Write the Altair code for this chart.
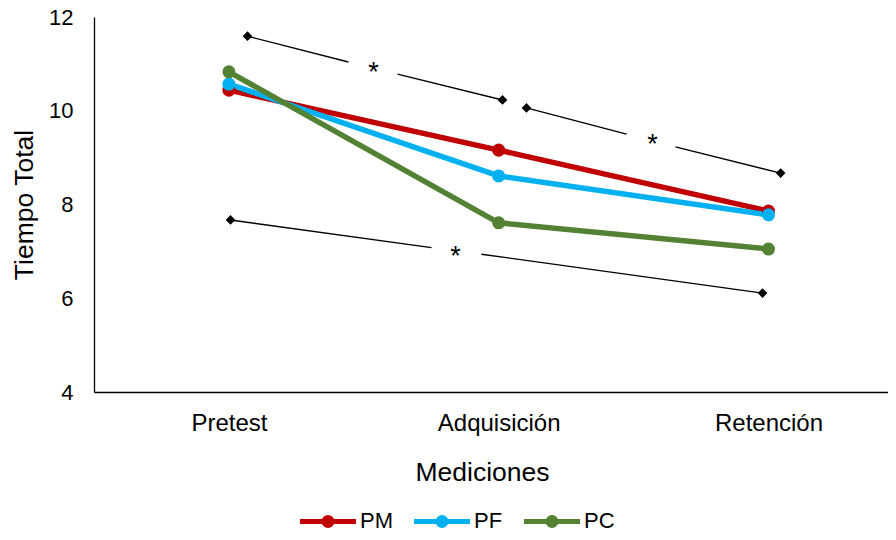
import altair as alt
import pandas as pd

categories = ["Pretest", "Adquisición", "Retención"]
series = ["PM", "PF", "PC"]
colors = ["#C00000", "#00B0F0", "#548235"]
pm = [10.44, 9.16, 7.86]
pf = [10.57, 8.61, 7.78]
pc = [10.83, 7.61, 7.05]
y_ticks = [4, 6, 8, 10, 12]

# significance brackets (x in category units, 0.5 = first category)
sig_x1 = [0.569, 1.603, 0.506]
sig_y1 = [11.59, 10.06, 7.67]
sig_gx1 = [0.943, 1.974, 1.251]
sig_gy1 = [11.04, 9.50, 7.08]
sig_gx2 = [1.125, 2.155, 1.436]
sig_gy2 = [10.78, 9.23, 6.94]
sig_x2 = [1.514, 2.545, 2.478]
sig_y2 = [10.23, 8.67, 6.11]
star_x = [1.036, 2.070, 1.340]
star_y = [10.95, 9.42, 7.03]

FONT = "Liberation Sans"

rows = []
for s, vals in zip(series, [pm, pf, pc]):
    for j, v in enumerate(vals):
        rows.append({"x": j + 0.5, "y": v, "Serie": s})
df = pd.DataFrame(rows)

seg_rows = []
for i in range(len(sig_x1)):
    seg_rows.append({"x": sig_x1[i], "y": sig_y1[i], "x2": sig_gx1[i], "y2": sig_gy1[i]})
    seg_rows.append({"x": sig_gx2[i], "y": sig_gy2[i], "x2": sig_x2[i], "y2": sig_y2[i]})
seg_df = pd.DataFrame(seg_rows)

dia_rows = []
for i in range(len(sig_x1)):
    dia_rows.append({"x": sig_x1[i], "y": sig_y1[i]})
    dia_rows.append({"x": sig_x2[i], "y": sig_y2[i]})
dia_df = pd.DataFrame(dia_rows)

star_df = pd.DataFrame({"x": star_x, "y": star_y, "t": ["*"] * len(star_x)})

label_expr = "[" + ",".join("'" + c + "'" for c in categories) + "][floor(datum.value)]"

x_scale = alt.Scale(domain=[0, 2.943], nice=False, zero=False)
y_scale = alt.Scale(domain=[4, 12], nice=False, zero=False)

x_axis = alt.Axis(
    values=[0.5, 1.5, 2.5], labelExpr=label_expr, title="Mediciones", grid=False,
    ticks=False, domainColor="black", domainWidth=1.3, labelFontSize=24,
    labelColor="black", labelFont=FONT, labelPadding=19, titleFontSize=26.5,
    titleFontWeight="normal", titleColor="black", titleFont=FONT, titleX=388,
    titleY=88, titleBaseline="alphabetic", labelOverlap=False, labelFlush=False,
)
y_axis = alt.Axis(
    values=y_ticks, title="Tiempo Total", grid=False, ticks=False,
    domainColor="black", domainWidth=1.3, labelFontSize=22, labelColor="black",
    labelFont=FONT, labelPadding=21, titleFontSize=26.5, titleFontWeight="normal",
    titleColor="black", titleFont=FONT, titleX=-62, titleY=187.5,
    titleBaseline="alphabetic", labelOverlap=False,
)

# legend symbol: line with a dot, unit = 6 px (symbolSize 144)
legend_path = (
    "M-4.667,0L4.667,0 "
    "M0.667,0A0.667,0.667 0 1,1 -0.667,0A0.667,0.667 0 1,1 0.667,0 "
    "M0.25,0A0.25,0.25 0 1,1 -0.25,0A0.25,0.25 0 1,1 0.25,0"
)

color = alt.Color(
    "Serie:N",
    scale=alt.Scale(domain=series, range=colors),
    sort=series,
    legend=alt.Legend(
        title=None, orient="none", legendX=223, legendY=493, direction="horizontal",
        symbolType=legend_path, symbolSize=144, symbolStrokeWidth=5,
        labelFontSize=22, labelFont=FONT, labelColor="black", labelOffset=21,
        columnPadding=10, padding=0,
    ),
)

base_x = alt.X("x:Q", scale=x_scale, axis=x_axis)
base_y = alt.Y("y:Q", scale=y_scale, axis=y_axis)

lines = alt.Chart(df).mark_line(strokeWidth=5.5, strokeCap="round", strokeJoin="round").encode(
    x=base_x, y=base_y, color=color, detail="Serie:N"
)
points = alt.Chart(df).mark_point(filled=True, size=170, opacity=1, strokeWidth=0).encode(
    x="x:Q", y="y:Q",
    fill=alt.Fill("Serie:N", scale=alt.Scale(domain=series, range=colors), legend=None),
)

segs = alt.Chart(seg_df).mark_rule(color="black", strokeWidth=1.4).encode(
    x="x:Q", y="y:Q", x2="x2:Q", y2="y2:Q"
)
diamonds = alt.Chart(dia_df).mark_point(shape="diamond", filled=True, color="black", size=95, opacity=1).encode(
    x="x:Q", y="y:Q"
)
stars = alt.Chart(star_df).mark_text(fontSize=27, font=FONT, color="black", baseline="alphabetic", dy=15).encode(
    x="x:Q", y="y:Q", text="t:N"
)

chart = alt.layer(segs, diamonds, stars, lines, points).properties(
    width=794, height=375,
    autosize=alt.AutoSizeParams(type="none"),
    padding={"left": 86, "top": 9, "right": 0, "bottom": 140},
    background="white",
).configure_view(stroke=None)

chart.save("out.html", embed_options={"renderer": "svg", "actions": False})
